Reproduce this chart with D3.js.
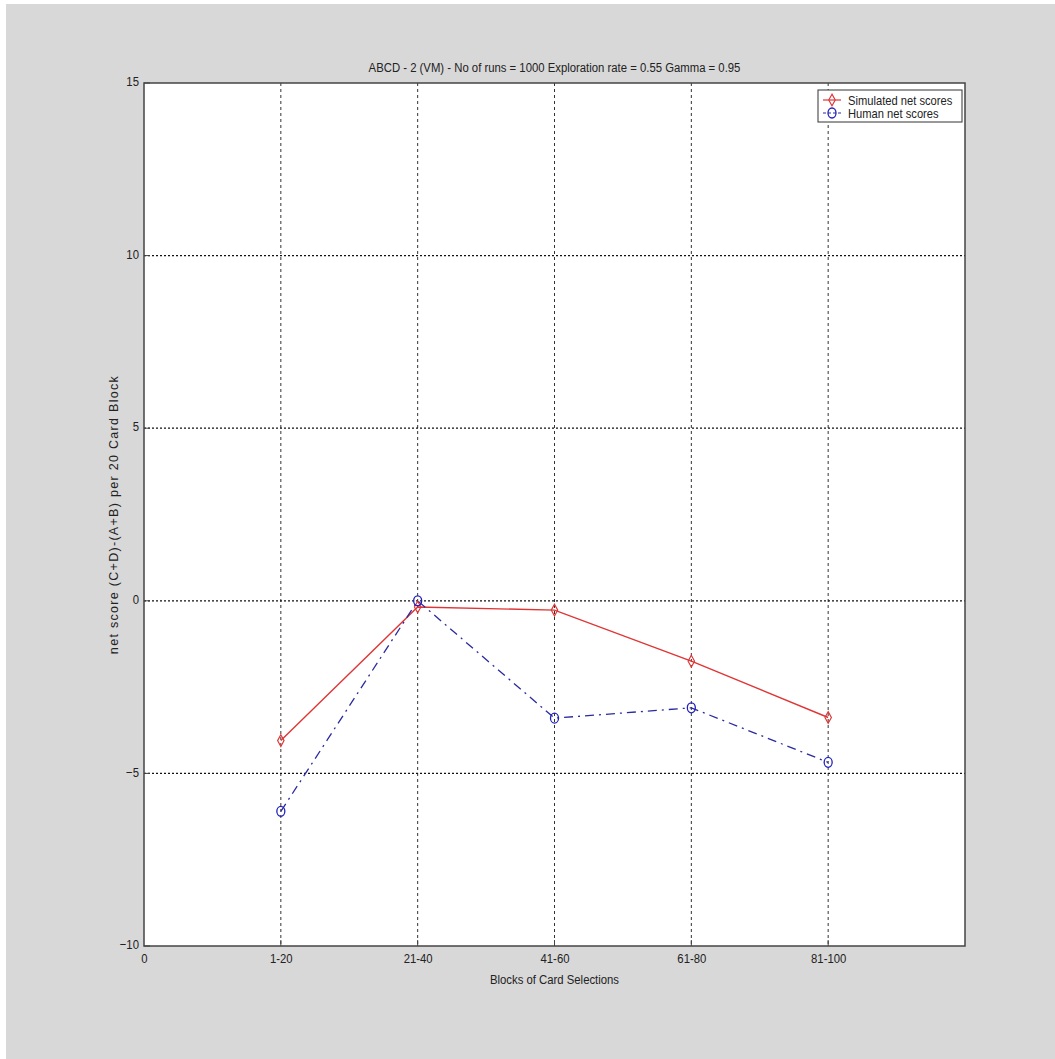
<!DOCTYPE html>
<html>
<head>
<meta charset="utf-8">
<script src="https://cdn.jsdelivr.net/npm/d3@7"></script>
<style>
  body { margin: 0; background: #ffffff; }
  svg { display: block; }
</style>
</head>
<body>
<div id="chart-area"></div>
<script>
// data
var blocks = ["1-20", "21-40", "41-60", "61-80", "81-100"];
var simulated = [-4.05, -0.18, -0.27, -1.75, -3.38];
var human = [-6.1, 0.0, -3.4, -3.1, -4.68];
var yTicks = [-10, -5, 0, 5, 10, 15];
var xTickLabels = ["0"].concat(blocks);

var W = 1055, H = 1059;
var margins = { left: 144, right: 90, top: 83, bottom: 113 };
var width = W - margins.left - margins.right;
var height = H - margins.top - margins.bottom;

var font = "'Liberation Sans', Arial, sans-serif";
var narrow = "scale(0.84,1)";

var svg = d3.select("#chart-area")
    .append("svg")
    .attr("width", W)
    .attr("height", H);

// figure background
svg.append("rect")
    .attr("x", 6).attr("y", 4)
    .attr("width", W - 6).attr("height", H - 4)
    .attr("fill", "#d8d8d8");

var g = svg.append("g")
    .attr("transform", "translate(" + margins.left + "," + margins.top + ")");

var x = d3.scaleLinear().domain([0, 6]).range([0, width]);
var y = d3.scaleLinear().domain([-10, 15]).range([height, 0]);

g.append("rect")
    .attr("width", width).attr("height", height)
    .attr("fill", "white");

// grid
g.selectAll(".vgrid")
    .data(d3.range(1, 6))
    .enter().append("line")
    .attr("x1", function(d) { return x(d); })
    .attr("x2", function(d) { return x(d); })
    .attr("y1", 0).attr("y2", height)
    .attr("stroke", "#333")
    .attr("stroke-width", 1)
    .attr("stroke-dasharray", "3,3");

g.selectAll(".hgrid")
    .data(yTicks.slice(1, -1))
    .enter().append("line")
    .attr("y1", function(d) { return y(d); })
    .attr("y2", function(d) { return y(d); })
    .attr("x1", 0).attr("x2", width)
    .attr("stroke", "#111")
    .attr("stroke-width", 1.2)
    .attr("stroke-dasharray", "2,2");

// frame
g.append("rect")
    .attr("width", width).attr("height", height)
    .attr("fill", "none")
    .attr("stroke", "#444")
    .attr("stroke-width", 1.5);

// axes
var xAxis = d3.axisBottom(x)
    .tickValues(d3.range(0, 6))
    .tickFormat(function(d, i) { return xTickLabels[i]; })
    .tickSize(0).tickPadding(7);

var yAxis = d3.axisLeft(y)
    .tickValues(yTicks)
    .tickSize(0).tickPadding(6);

var gx = g.append("g")
    .attr("transform", "translate(0," + height + ")")
    .call(xAxis);
gx.select(".domain").remove();
gx.selectAll("text")
    .attr("transform", narrow)
    .style("font-family", font).style("font-size", "13.5px").attr("fill", "#222");

var gy = g.append("g").call(yAxis);
gy.select(".domain").remove();
gy.selectAll("text")
    .attr("transform", narrow)
    .attr("dy", "0.2em")
    .style("font-family", font).style("font-size", "13.5px").attr("fill", "#222");

// inner tick marks
g.selectAll(".yt")
    .data(yTicks)
    .enter().append("line")
    .attr("x1", 0).attr("x2", 6)
    .attr("y1", function(d) { return y(d); })
    .attr("y2", function(d) { return y(d); })
    .attr("stroke", "#444");
g.selectAll(".xt")
    .data(d3.range(1, 6))
    .enter().append("line")
    .attr("x1", function(d) { return x(d); })
    .attr("x2", function(d) { return x(d); })
    .attr("y1", height).attr("y2", height - 6)
    .attr("stroke", "#444");

// title and labels
var cx = margins.left + width / 2;
svg.append("text")
    .attr("transform", "translate(" + cx + ",72) " + narrow)
    .attr("text-anchor", "middle")
    .style("font-family", font).style("font-size", "13.5px")
    .attr("fill", "#222")
    .text("ABCD - 2 (VM) - No of runs = 1000 Exploration rate =  0.55 Gamma = 0.95");

svg.append("text")
    .attr("transform", "translate(" + cx + ",984) " + narrow)
    .attr("text-anchor", "middle")
    .style("font-family", font).style("font-size", "13.5px")
    .attr("fill", "#222")
    .text("Blocks of Card Selections");

svg.append("text")
    .attr("transform", "translate(118," + (margins.top + height / 2) + ") rotate(-90)")
    .attr("text-anchor", "middle")
    .style("font-family", font).style("font-size", "12.5px")
    .style("letter-spacing", "1.3px")
    .attr("fill", "#222")
    .text("net score (C+D)-(A+B) per 20 Card Block");

// lines
var line = d3.line()
    .x(function(d, i) { return x(i + 1); })
    .y(function(d) { return y(d); });

g.append("path")
    .datum(simulated)
    .attr("d", line)
    .attr("fill", "none")
    .attr("stroke", "#e03535")
    .attr("stroke-width", 1.4);

g.append("path")
    .datum(human)
    .attr("d", line)
    .attr("fill", "none")
    .attr("stroke", "#2a2aa0")
    .attr("stroke-width", 1.3)
    .attr("stroke-dasharray", "9,5,2,5");

var diamond = d3.symbol().type(d3.symbolDiamond).size(40);

g.selectAll(".sim")
    .data(simulated)
    .enter().append("path")
    .attr("d", diamond)
    .attr("transform", function(d, i) { return "translate(" + x(i + 1) + "," + y(d) + ") scale(0.95,1)"; })
    .attr("fill", "none")
    .attr("stroke", "#e03535")
    .attr("stroke-width", 1.2);

g.selectAll(".hum")
    .data(human)
    .enter().append("ellipse")
    .attr("cx", function(d, i) { return x(i + 1); })
    .attr("cy", function(d) { return y(d); })
    .attr("rx", 4).attr("ry", 5)
    .attr("fill", "none")
    .attr("stroke", "#2020c0")
    .attr("stroke-width", 1.3);

// legend
var lg = svg.append("g").attr("transform", "translate(818,90)");
lg.append("rect")
    .attr("width", 144).attr("height", 32)
    .attr("fill", "white")
    .attr("stroke", "#333")
    .attr("stroke-width", 1);

var legendItems = [
    { name: "Simulated net scores", color: "#e03535", dash: null, marker: "diamond" },
    { name: "Human net scores", color: "#2a2aa0", dash: "3,2", marker: "circle" }
];

legendItems.forEach(function(item, i) {
    var yy = 10 + i * 13;
    lg.append("line")
        .attr("x1", 5).attr("x2", 23)
        .attr("y1", yy).attr("y2", yy)
        .attr("stroke", item.color)
        .attr("stroke-width", 1.2)
        .attr("stroke-dasharray", item.dash);
    if (item.marker === "diamond") {
        lg.append("path")
            .attr("d", diamond)
            .attr("transform", "translate(14," + yy + ") scale(0.95,1)")
            .attr("fill", "none").attr("stroke", item.color).attr("stroke-width", 1.2);
    } else {
        lg.append("ellipse")
            .attr("cx", 14).attr("cy", yy)
            .attr("rx", 4).attr("ry", 5)
            .attr("fill", "none").attr("stroke", "#2020c0").attr("stroke-width", 1.3);
    }
    lg.append("text")
        .attr("transform", "translate(30," + (yy + 4.5) + ") scale(0.86,1)")
        .style("font-family", font).style("font-size", "13px")
        .attr("fill", "#222")
        .text(item.name);
});
</script>
</body>
</html>
